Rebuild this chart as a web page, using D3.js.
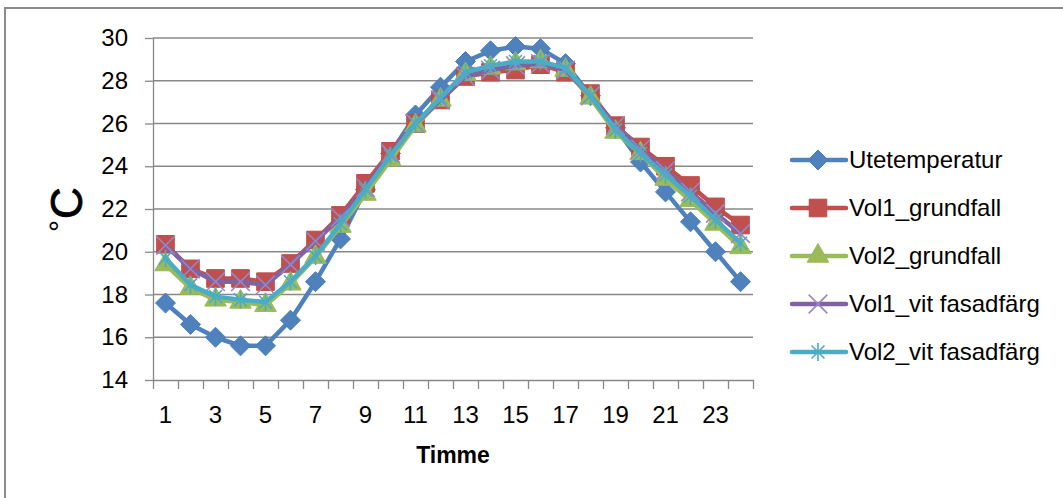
<!doctype html>
<html lang="sv">
  <head>
    <meta charset="utf-8">
    <script src="https://d3js.org/d3.v7.min.js"></script>
    <style>
      body { margin: 0; background: #fff; }
      text { font-family: "Liberation Sans", Arial, sans-serif; fill: #000; }
    </style>
    <title>Timme</title>
  </head>
  <body>
<div id="my_dataviz"></div>
<script>

    // values
    var hours = [1, 2, 3, 4, 5, 6, 7, 8, 9, 10, 11, 12, 13, 14, 15, 16, 17, 18, 19, 20, 21, 22, 23, 24];
    var xLabels = [1, 3, 5, 7, 9, 11, 13, 15, 17, 19, 21, 23];
    var yTicks = [14, 16, 18, 20, 22, 24, 26, 28, 30];

    var utetemperatur = [17.6, 16.6, 16.0, 15.6, 15.6, 16.8, 18.6, 20.6, 22.9, 24.6, 26.4, 27.7,
                         28.9, 29.4, 29.6, 29.5, 28.8, 27.3, 25.8, 24.2, 22.8, 21.4, 20.0, 18.6];
    var vol1Grundfall = [20.35, 19.2, 18.75, 18.75, 18.6, 19.45, 20.55, 21.7, 23.2, 24.7, 26.0, 27.1,
                         28.2, 28.4, 28.5, 28.75, 28.4, 27.4, 25.9, 24.9, 24.0, 23.1, 22.1, 21.25];
    var vol2Grundfall = [19.4, 18.3, 17.75, 17.65, 17.5, 18.5, 19.75, 21.2, 22.7, 24.3, 25.9, 27.1,
                         28.3, 28.6, 28.8, 28.9, 28.5, 27.2, 25.6, 24.6, 23.4, 22.4, 21.3, 20.2];
    var vol1Vit = [20.3, 19.2, 18.6, 18.6, 18.45, 19.4, 20.5, 21.6, 23.0, 24.6, 26.0, 27.1,
                   28.2, 28.5, 28.7, 28.8, 28.5, 27.3, 25.9, 24.8, 23.8, 22.8, 21.8, 20.85];
    var vol2Vit = [19.7, 18.45, 17.9, 17.75, 17.65, 18.6, 19.8, 21.3, 22.9, 24.5, 26.0, 27.2,
                   28.4, 28.7, 28.9, 28.9, 28.6, 27.3, 25.7, 24.6, 23.6, 22.6, 21.5, 20.4];

    var seriesNames = ["Utetemperatur", "Vol1_grundfall", "Vol2_grundfall", "Vol1_vit fasadfärg", "Vol2_vit fasadfärg"];
    var seriesValues = [utetemperatur, vol1Grundfall, vol2Grundfall, vol1Vit, vol2Vit];

    // styles per series
    var colors = ["#4f81bd", "#c0504d", "#9bbb59", "#8064a2", "#4bacc6"];
    var markerColors = ["#4a7ebb", "#be4b48", "#98b954", "#9b85c4", "#4bacc6"];

    var W = 1063, H = 498;
    var plot = {left: 153, right: 753, top: 38, bottom: 380};

    var svg = d3.select("#my_dataviz")
      .append("svg")
        .attr("width", W)
        .attr("height", H);

    svg.append("rect")
      .attr("width", W).attr("height", H)
      .attr("fill", "#fff");

    // chart frame
    svg.append("rect")
      .attr("x", 5).attr("y", 8)
      .attr("width", 1080).attr("height", 520)
      .attr("fill", "none")
      .attr("stroke", "#8a8a8a")
      .attr("stroke-width", 2);

    var x = d3.scaleBand()
      .domain(hours)
      .range([plot.left, plot.right]);

    var xb = d3.scaleLinear()
      .domain([0, hours.length])
      .range([plot.left, plot.right]);

    var y = d3.scaleLinear()
      .domain([14, 30])
      .range([plot.bottom, plot.top]);

    // gridlines
    svg.append("g")
      .selectAll("line")
      .data(yTicks.slice(1))
      .enter()
      .append("line")
        .attr("x1", plot.left).attr("x2", plot.right)
        .attr("y1", function(d) { return y(d); })
        .attr("y2", function(d) { return y(d); })
        .attr("stroke", "#888")
        .attr("stroke-width", 1.3);

    // Y axis
    var yAxis = svg.append("g")
      .attr("transform", "translate(" + plot.left + ",0)")
      .call(d3.axisLeft(y).tickValues(yTicks).tickSize(8).tickPadding(17).tickSizeOuter(0));
    yAxis.select(".domain").attr("stroke", "#888").attr("stroke-width", 1.3);
    yAxis.selectAll(".tick line").attr("stroke", "#888").attr("stroke-width", 1.3);
    yAxis.selectAll("text")
      .style("font-family", "Liberation Sans, Arial, sans-serif")
      .style("font-size", "24px")
      .attr("fill", "#000");

    // X axis tick marks at band edges
    var xTicks = svg.append("g")
      .attr("transform", "translate(0," + plot.bottom + ")")
      .call(d3.axisBottom(xb).ticks(hours.length).tickSize(9).tickFormat("").tickSizeOuter(0));
    xTicks.select(".domain").attr("stroke", "#888").attr("stroke-width", 1.3);
    xTicks.selectAll(".tick line").attr("stroke", "#888").attr("stroke-width", 1.3);

    // X axis labels (odd hours)
    var xAxis = svg.append("g")
      .attr("transform", "translate(0," + plot.bottom + ")")
      .call(d3.axisBottom(x).tickValues(xLabels).tickSize(0).tickPadding(26));
    xAxis.select(".domain").remove();
    xAxis.selectAll("text")
      .style("font-family", "Liberation Sans, Arial, sans-serif")
      .style("font-size", "24px")
      .attr("fill", "#000");

    // axis titles
    svg.append("text")
      .attr("x", 453).attr("y", 463)
      .attr("text-anchor", "middle")
      .style("font-size", "23px")
      .style("font-weight", "bold")
      .text("Timme");

    svg.append("text")
      .attr("transform", "translate(82,203)rotate(-90)")
      .attr("text-anchor", "middle")
      .style("font-size", "44px")
      .style("stroke", "#000")
      .style("stroke-width", 0.8)
      .text("C");
    svg.append("text")
      .attr("transform", "translate(70,226)rotate(-90)")
      .attr("text-anchor", "middle")
      .style("font-size", "30px")
      .text("°");

    // marker shapes
    var starPath = function(r) {
      var d = r * 0.72;
      return "M0," + (-r) + "L0," + r +
             "M" + (-d) + "," + (-d) + "L" + d + "," + d +
             "M" + (-d) + "," + d + "L" + d + "," + (-d);
    };
    var diamondPath = function(r) {
      return "M0," + (-r) + "L" + r + ",0L0," + r + "L" + (-r) + ",0Z";
    };
    var markers = [
      {path: diamondPath(10), fill: true},
      {path: d3.symbol().type(d3.symbolSquare).size(310)(), fill: true},
      {path: d3.symbol().type(d3.symbolTriangle).size(200)(), fill: true},
      {path: d3.symbol().type(d3.symbolTimes).size(230)(), fill: false},
      {path: starPath(9), fill: false}
    ];

    var line = d3.line()
      .x(function(d, i) { return x(hours[i]) + x.bandwidth() / 2; })
      .y(function(d) { return y(d); });

    function drawMarker(sel, k) {
      sel.append("path")
        .attr("d", markers[k].path)
        .attr("fill", markers[k].fill ? colors[k] : "none")
        .attr("stroke", markerColors[k])
        .attr("stroke-width", markers[k].fill ? 1 : 1.6);
    }

    seriesValues.forEach(function(vals, k) {
      var g = svg.append("g");
      g.append("path")
        .datum(vals)
        .attr("d", line)
        .attr("fill", "none")
        .attr("stroke", colors[k])
        .attr("stroke-width", 4.5)
        .attr("stroke-linejoin", "round")
        .attr("stroke-linecap", "round");
      g.selectAll("g.mk")
        .data(vals)
        .enter()
        .append("g")
          .attr("class", "mk")
          .attr("transform", function(d, i) {
            return "translate(" + (x(hours[i]) + x.bandwidth() / 2) + "," + y(d) + ")";
          })
          .each(function() { drawMarker(d3.select(this), k); });
    });

    // legend
    var legend = svg.append("g");
    seriesNames.forEach(function(name, k) {
      var ly = 160 + k * 48;
      legend.append("line")
        .attr("x1", 792).attr("x2", 846)
        .attr("y1", ly).attr("y2", ly)
        .attr("stroke", colors[k])
        .attr("stroke-width", 4.5)
        .attr("stroke-linecap", "round");
      drawMarker(legend.append("g").attr("transform", "translate(818," + ly + ")"), k);
      legend.append("text")
        .attr("x", 849).attr("y", ly + 8)
        .style("font-size", "24px")
        .text(name);
    });

</script>
</body>
</html>
